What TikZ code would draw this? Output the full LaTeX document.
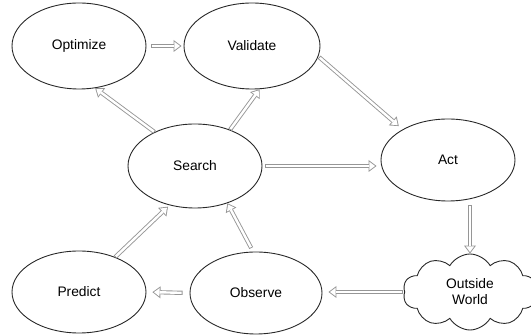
\documentclass[tikz,border=0pt]{standalone}
\usepackage{fontspec}
\setmainfont{Liberation Sans}
\usetikzlibrary{arrows.meta,shapes.geometric,shapes.symbols}
\definecolor{edgegray}{RGB}{150,150,150}
\definecolor{rimgray}{RGB}{40,40,40}
\tikzset{
  stage/.style={ellipse, draw=rimgray, line width=0.9pt, inner sep=0pt,
    minimum width=134pt, minimum height=84pt,
    font=\fontsize{13.8}{16}\selectfont},
  world/.style={cloud, cloud puffs=10, cloud puff arc=120, draw=rimgray,
    line width=0.9pt, inner sep=0pt, minimum width=134pt, minimum height=76pt,
    align=center, font=\fontsize{13.8}{16}\selectfont},
  % hollow block arrow: gray outline, white core; #1 = gap at start, #2 = gap at end
  hollow/.style 2 args={draw=edgegray, line width=4.2pt,
    -{Triangle[length=8pt,width=12pt,line width=0pt]},
    shorten <=#1, shorten >=#2,
    postaction={draw=white, line width=2.4pt,
      -{Triangle[length=5.6pt,width=8.4pt,line width=0pt]},
      shorten <={#1+0.9pt}, shorten >={#2+1.5pt}}},
}
\begin{document}
\begin{tikzpicture}[x=1pt,y=-1pt]
  \useasboundingbox (0,0) rectangle (531,336);

  \node[stage, minimum height=86pt] (opt) at (79,46)  {Optimize};
  \node[stage, minimum width=136pt, minimum height=86pt] (val) at (252,46) {Validate};
  \node[stage] (srch) at (195,166) {Search};
  \node[stage, minimum height=82pt] (act) at (448,160) {Act};
  \node[stage, minimum height=82pt] (pred) at (79,292) {Predict};
  \node[stage, minimum width=132pt, minimum height=82pt] (obs) at (256,293) {Observe};
  \node[world] (out) at (470,292) {Outside\\World};

  \draw[hollow={5pt}{2pt}] (opt.east) -- (val.west);
  \draw[hollow={1pt}{5pt}] (val.-9) -- (act.146);
  \draw[hollow={0pt}{0pt}] (srch.140) -- (opt.-69);
  \draw[hollow={0pt}{0pt}] (srch.46) -- (val.-80);
  \draw[hollow={3pt}{4pt}] (srch.east) -- (srch.east -| act.west);
  \draw[hollow={4pt}{0pt}] (act.south -| out.north) -- (out.north);
  \draw[hollow={1pt}{6pt}] (out.west) -- (out.west -| obs.east);
  \draw[hollow={7pt}{6pt}] (obs.west) -- (pred.east);
  \draw[hollow={0pt}{2pt}] (pred.44) -- (srch.-123);
  \draw[hollow={4pt}{0pt}] (obs.94) -- (srch.-49);
\end{tikzpicture}
\end{document}
